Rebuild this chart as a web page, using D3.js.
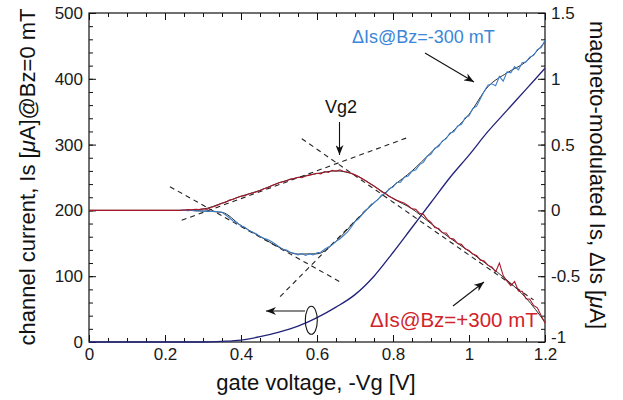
<!DOCTYPE html>
<html>
<head>
<meta charset="utf-8">
<script src="https://cdn.jsdelivr.net/npm/d3@7"></script>
<style>
  body { margin: 0; background: #fff; }
  text { font-family: "Liberation Sans", Arial, Helvetica, sans-serif; }
</style>
</head>
<body>
<svg id="chart" width="623" height="400"></svg>
<script>
// gate voltage grid of the two noisy magneto-modulated traces [V]
var vgFine = [0.24,0.25,0.26,0.27,0.28,0.29,0.30,0.31,0.32,0.33,0.34,0.35,0.36,0.37,0.38,0.39,
  0.40,0.41,0.42,0.43,0.44,0.45,0.46,0.47,0.48,0.49,0.50,0.51,0.52,0.53,0.54,0.55,0.56,0.57,0.58,0.59,
  0.60,0.61,0.62,0.63,0.64,0.65,0.66,0.67,0.68,0.69,0.70,0.71,0.72,0.73,0.74,0.75,0.76,0.77,0.78,0.79,
  0.80,0.81,0.82,0.83,0.84,0.85,0.86,0.87,0.88,0.89,0.90,0.91,0.92,0.93,0.94,0.95,0.96,0.97,0.98,0.99,
  1.00,1.01,1.02,1.03,1.04,1.05,1.06,1.07,1.08,1.09,1.10,1.11,1.12,1.13,1.14,1.15,1.16,1.17,1.18,1.19,1.20];

// dIs @ Bz=-300 mT [uA] (right axis)
var dIsMinus = [
  0.000, 0.002, -0.003, 0.001, -0.004, -0.002, -0.006, -0.004, -0.008, -0.006,
  -0.010, -0.014, -0.035, -0.058, -0.082, -0.095, -0.118, -0.128, -0.152, -0.165,
  -0.178, -0.198, -0.212, -0.222, -0.236, -0.255, -0.275, -0.296, -0.302, -0.318,
  -0.326, -0.338, -0.328, -0.342, -0.330, -0.338, -0.322, -0.318, -0.295, -0.278,
  -0.262, -0.235, -0.218, -0.192, -0.165, -0.128, -0.085, -0.062, -0.028, 0.005,
  0.032, 0.058, 0.082, 0.118, 0.128, 0.165, 0.178, 0.212, 0.215, 0.252,
  0.262, 0.298, 0.308, 0.348, 0.365, 0.412, 0.428, 0.472, 0.485, 0.528,
  0.545, 0.588, 0.598, 0.642, 0.655, 0.705, 0.718, 0.775, 0.792, 0.848,
  0.905, 0.952, 0.962, 0.948, 1.018, 0.982, 1.052, 1.045, 1.092, 1.068,
  1.122, 1.128, 1.165, 1.178, 1.222, 1.238, 1.292];

// dIs @ Bz=+300 mT [uA] (right axis)
var dIsPlus = [
  0.000, 0.003, 0.006, 0.004, 0.009, 0.006, 0.012, 0.008, 0.022, 0.030,
  0.042, 0.055, 0.062, 0.078, 0.085, 0.098, 0.108, 0.112, 0.125, 0.132,
  0.140, 0.152, 0.165, 0.172, 0.188, 0.198, 0.210, 0.218, 0.225, 0.238,
  0.242, 0.252, 0.248, 0.262, 0.268, 0.275, 0.282, 0.278, 0.295, 0.288,
  0.305, 0.298, 0.308, 0.295, 0.292, 0.282, 0.270, 0.255, 0.238, 0.222,
  0.202, 0.185, 0.165, 0.142, 0.128, 0.105, 0.092, 0.078, 0.065, 0.055,
  0.035, 0.012, 0.008, -0.022, -0.030, -0.068, -0.092, -0.130, -0.138, -0.170,
  -0.172, -0.212, -0.218, -0.252, -0.258, -0.292, -0.305, -0.332, -0.342, -0.378,
  -0.385, -0.418, -0.430, -0.468, -0.400, -0.495, -0.538, -0.572, -0.540, -0.612,
  -0.615, -0.672, -0.675, -0.722, -0.740, -0.800, -0.855];

// smoothed traces under the noisy ones (right axis)
var vgKnot = [0, 0.25, 0.30, 0.35, 0.40, 0.45, 0.50, 0.55, 0.60, 0.65, 0.70, 0.75, 0.80, 0.85, 0.90, 0.95, 1.00, 1.05, 1.10, 1.15, 1.20];
var minusFit = [0, 0, -0.005, -0.015, -0.115, -0.198, -0.28, -0.332, -0.33, -0.235, -0.082, 0.058, 0.185, 0.30, 0.44, 0.58, 0.73, 0.94, 1.045, 1.13, 1.28];
var plusFit = [0, 0, 0.01, 0.055, 0.108, 0.152, 0.21, 0.25, 0.28, 0.30, 0.27, 0.185, 0.09, 0.012, -0.10, -0.21, -0.31, -0.415, -0.53, -0.665, -0.85];

// channel current Is @ Bz=0 mT [uA] (left axis)
var vgIs = [0, 0.30, 0.35, 0.40, 0.45, 0.50, 0.55, 0.60, 0.65, 0.70, 0.75, 0.80, 0.85, 0.90, 0.95, 1.00, 1.05, 1.10, 1.15, 1.20];
var isBz0 = [0, 0, 1, 3, 8, 15, 24, 37, 53, 72, 100, 136, 174, 212, 250, 284, 320, 352, 384, 416];

// dashed tangent lines, [vg, dIs] end points (right axis)
var tangents = [
  [[0.213, 0.18], [0.665, -0.55]],
  [[0.244, -0.075], [0.84, 0.555]],
  [[0.56, 0.545], [1.17, -0.68]],
  [[0.503, -0.655], [0.75, 0.065]]
];

var xTicks = [0, 0.2, 0.4, 0.6, 0.8, 1, 1.2];
var leftTicks = [0, 100, 200, 300, 400, 500];
var rightTicks = [-1, -0.5, 0, 0.5, 1, 1.5];

(function() {
  var svg = d3.select("#chart");
  var pl = 89, pr = 545, pt = 13, pb = 342;

  var x = d3.scaleLinear().domain([0, 1.2]).range([pl, pr]);
  var yL = d3.scaleLinear().domain([0, 500]).range([pb, pt]);
  var yR = d3.scaleLinear().domain([-1, 1.5]).range([pb, pt]);

  var fmt = function(d) { return String(d); };

  function addAxis(axis, tx, ty, labels) {
    var g = svg.append("g")
      .attr("transform", "translate(" + tx + "," + ty + ")")
      .call(axis);
    g.select(".domain").remove();
    g.selectAll("line").attr("stroke", "#111").attr("stroke-width", 1);
    if(labels) {
      g.selectAll("text").attr("font-size", 17).attr("fill", "#1a1a1a")
        .style("font-family", "'Liberation Sans', Arial, sans-serif");
    } else {
      g.selectAll("text").remove();
    }
    return g;
  }

  // minor ticks
  addAxis(d3.axisBottom(x).tickValues(x.ticks(24)).tickSize(-4), 0, pb, false);
  addAxis(d3.axisTop(x).tickValues(x.ticks(24)).tickSize(-4), 0, pt, false);
  addAxis(d3.axisLeft(yL).tickValues(yL.ticks(25)).tickSize(-4), pl, 0, false);
  addAxis(d3.axisRight(yR).tickValues(yR.ticks(25)).tickSize(-4), pr, 0, false);

  // major ticks with labels
  addAxis(d3.axisBottom(x).tickValues(xTicks).tickFormat(fmt).tickSize(-7).tickPadding(6), 0, pb, true);
  addAxis(d3.axisTop(x).tickValues(xTicks).tickSize(-7), 0, pt, false);
  addAxis(d3.axisLeft(yL).tickValues(leftTicks).tickFormat(fmt).tickSize(-7).tickPadding(6), pl, 0, true);
  var gr = addAxis(d3.axisRight(yR).tickValues(rightTicks).tickFormat(fmt).tickSize(-7).tickPadding(6), pr, 0, true);
  // the lowest right label sits a little higher, clear of the "1.2" below it
  gr.selectAll(".tick").filter(function(d) { return d === -1; })
    .select("text").attr("y", -5);

  svg.append("rect")
    .attr("x", pl).attr("y", pt)
    .attr("width", pr - pl).attr("height", pb - pt)
    .attr("fill", "none").attr("stroke", "#111").attr("stroke-width", 1.2);

  // dashed tangents
  var seg = d3.line().x(function(d) { return x(d[0]); }).y(function(d) { return yR(d[1]); });
  svg.append("g").selectAll("path")
    .data(tangents)
    .join("path")
    .attr("d", seg)
    .attr("fill", "none")
    .attr("stroke", "#222")
    .attr("stroke-width", 1.1)
    .attr("stroke-dasharray", "5,4");

  // channel current
  var lineL = d3.line().curve(d3.curveMonotoneX)
    .x(function(d, i) { return x(vgIs[i]); })
    .y(function(d) { return yL(d); });
  svg.append("path")
    .attr("d", lineL(isBz0))
    .attr("fill", "none")
    .attr("stroke", "#22227a")
    .attr("stroke-width", 1.3);

  // smoothed dark traces
  var lineKnot = d3.line().curve(d3.curveMonotoneX)
    .x(function(d, i) { return x(vgKnot[i]); })
    .y(function(d) { return yR(d); });
  [minusFit, plusFit].forEach(function(s) {
    svg.append("path")
      .attr("d", lineKnot(s))
      .attr("fill", "none")
      .attr("stroke", "#2a2a2a")
      .attr("stroke-width", 1);
  });

  // noisy traces
  var lineFine = d3.line()
    .x(function(d) { return x(d[0]); })
    .y(function(d) { return yR(d[1]); });

  var minusPts = vgFine.map(function(v, i) { return [v, dIsMinus[i]]; });
  var plusPts = [[0, 0]].concat(vgFine.map(function(v, i) { return [v, dIsPlus[i]]; }));

  svg.append("path")
    .attr("d", lineFine(minusPts))
    .attr("fill", "none")
    .attr("stroke", "#3f7fc8")
    .attr("stroke-width", 1.1);

  svg.append("path")
    .attr("d", lineFine(plusPts))
    .attr("fill", "none")
    .attr("stroke", "#a8182a")
    .attr("stroke-width", 1.1);

  // annotations
  var defs = svg.append("defs");
  defs.append("marker")
    .attr("id", "head")
    .attr("viewBox", "0 0 10 8")
    .attr("refX", 10).attr("refY", 4)
    .attr("markerWidth", 10).attr("markerHeight", 8)
    .attr("markerUnits", "userSpaceOnUse")
    .attr("orient", "auto")
    .append("path")
    .attr("d", "M0,0L10,4L0,8L3,4Z")
    .attr("fill", "#111");

  function arrow(x1, y1, x2, y2) {
    svg.append("line")
      .attr("x1", x1).attr("y1", y1).attr("x2", x2).attr("y2", y2)
      .attr("stroke", "#111").attr("stroke-width", 1.1)
      .attr("marker-end", "url(#head)");
  }

  svg.append("text")
    .attr("x", 341).attr("y", 113)
    .attr("text-anchor", "middle")
    .attr("font-size", 18)
    .attr("fill", "#111")
    .text("Vg2");
  arrow(339.5, 122, 339.5, 155);

  svg.append("text")
    .attr("x", 352).attr("y", 43)
    .attr("font-size", 18)
    .attr("fill", "#3a86d8")
    .text("\u0394Is@Bz=-300 mT");
  arrow(425, 53, 474, 82);

  svg.append("text")
    .attr("x", 370).attr("y", 327)
    .attr("font-size", 20.5)
    .attr("fill", "#d2232a")
    .text("\u0394Is@Bz=+300 mT");
  arrow(453, 306, 484, 282);

  svg.append("ellipse")
    .attr("cx", x(0.585)).attr("cy", yL(33))
    .attr("rx", 6).attr("ry", 14)
    .attr("fill", "none").attr("stroke", "#111").attr("stroke-width", 1.1);
  arrow(305, 311, 266, 311);

  // axis titles
  svg.append("text")
    .attr("x", 316).attr("y", 390)
    .attr("text-anchor", "middle")
    .attr("font-size", 22)
    .attr("fill", "#111")
    .text("gate voltage, -Vg [V]");

  var tl = svg.append("text")
    .attr("transform", "translate(35,177) rotate(-90)")
    .attr("text-anchor", "middle")
    .attr("font-size", 22)
    .attr("fill", "#111");
  tl.append("tspan").text("channel current, Is [");
  tl.append("tspan").attr("font-style", "italic").text("\u03bc");
  tl.append("tspan").text("A]@Bz=0 mT");

  var tr = svg.append("text")
    .attr("transform", "translate(590,175) rotate(90)")
    .attr("text-anchor", "middle")
    .attr("font-size", 22)
    .attr("fill", "#111");
  tr.append("tspan").text("magneto-modulated Is,  \u0394Is [");
  tr.append("tspan").attr("font-style", "italic").text("\u03bc");
  tr.append("tspan").text("A]");
})();
</script>
</body>
</html>
